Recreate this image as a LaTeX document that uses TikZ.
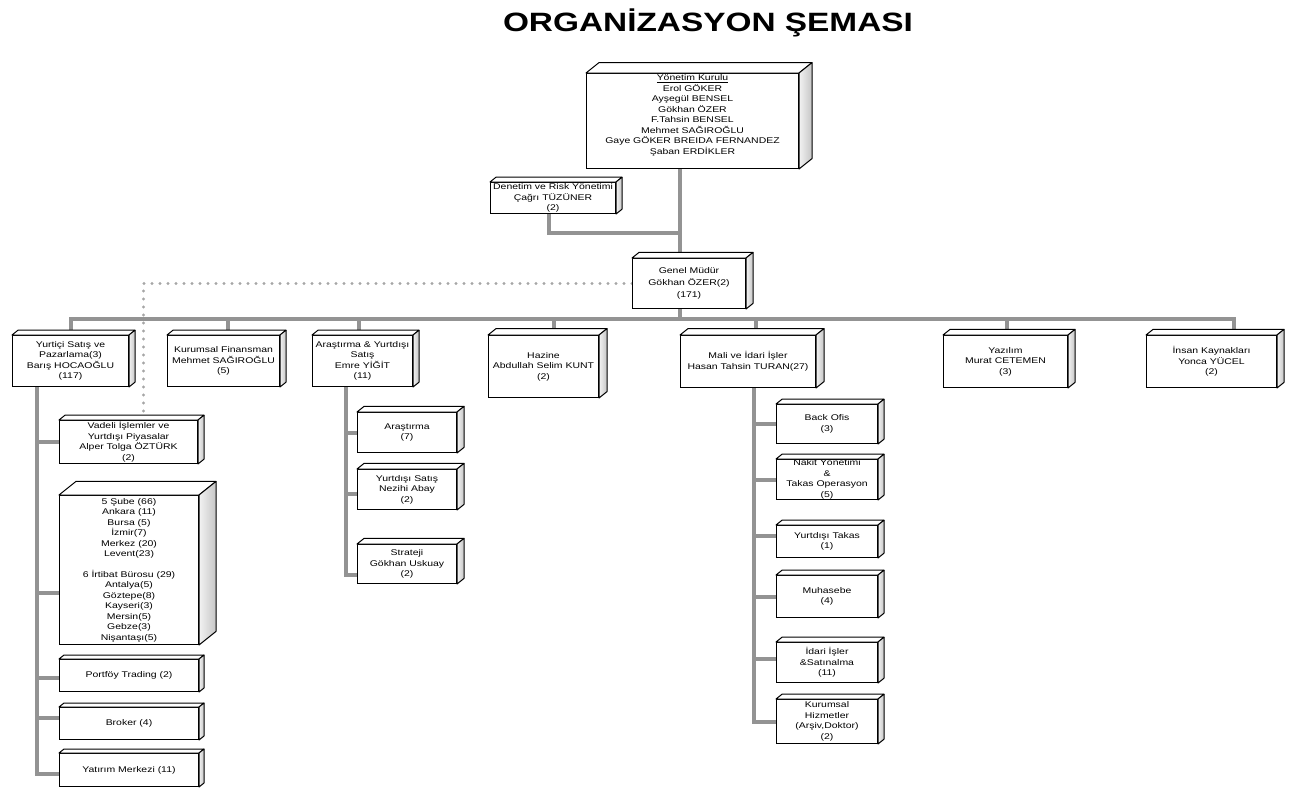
\documentclass[tikz,border=0pt]{standalone}
\usepackage{fontspec}
\setmainfont{Liberation Sans}[FakeStretch=1.26]
\usepackage{tikz}
\usetikzlibrary{positioning}
\pgfdeclarelayer{arka}
\pgfsetlayers{arka,main}
\newcommand{\yazi}{\fontsize{8.3}{10.5}\selectfont}
\newcommand{\kutu}[8][]{%
  \node[kutu,minimum width=#5,minimum height=#6,#1] (#2) at (#3,#4) {#8};
  \draw[kenar,fill=white] (#2.north west) -- ++(#7,-0.8*#7) -- ([shift={(#7,-0.8*#7)}]#2.north east) -- (#2.north east) -- cycle;
  \draw[kenar,left color=gray!10,right color=gray!45] (#2.north east) -- ++(#7,-0.8*#7) -- ([shift={(#7,-0.8*#7)}]#2.south east) -- (#2.south east) -- cycle;
}

\begin{document}
\begin{tikzpicture}[x=1pt,y=-1pt,
    kutu/.style={draw=black,fill=white,line width=1pt,inner sep=0pt,align=center,anchor=north west,font=\yazi},
    kenar/.style={draw=black,line width=1pt,line join=round},
    hat/.style={draw=gray!85,line width=4pt},
    nokta/.style={draw=gray!70,line width=3.2pt,line cap=round,dash pattern=on 0pt off 8pt}]
                \useasboundingbox (0,0) rectangle (1300,787);
                \node[font=\fontsize{26.5}{30}\selectfont\bfseries] (baslik) at (708,23) {ORGANİZASYON ŞEMASI};

                \kutu[label={[font=\yazi,align=center,anchor=north,inner sep=0pt,yshift=-1.5pt]north:{\underline{Yönetim Kurulu}\\Erol GÖKER\\Ayşegül BENSEL\\Gökhan ÖZER\\F.Tahsin BENSEL\\Mehmet SAĞIROĞLU\\Gaye GÖKER BREIDA FERNANDEZ\\Şaban ERDİKLER}}]{kurul}{586}{73}{212}{95}{13}{}
                \kutu{denetim}{490}{182}{125}{31}{6}{Denetim ve Risk Yönetimi\\Çağrı TÜZÜNER\\(2)}
                \kutu{genel}{632}{258}{113}{50}{7}{Genel Müdür\\[1.5pt]Gökhan ÖZER(2)\\[1.5pt](171)}

                \kutu{yurtici}{12}{335}{116}{51}{6}{Yurtiçi Satış ve\\Pazarlama(3)\\Barış HOCAOĞLU\\(117)}
                \kutu{kfinans}{167}{335}{112}{51}{6}{Kurumsal Finansman\\Mehmet SAĞIROĞLU\\(5)}
                \kutu{arastirma}{312}{335}{100}{51}{6}{Araştırma \& Yurtdışı\\Satış\\Emre YİĞİT\\(11)}
                \kutu{hazine}{488}{335}{110}{62}{8}{Hazine\\Abdullah Selim KUNT\\(2)}
                \kutu{mali}{680}{335}{135}{52}{8}{Mali ve İdari İşler\\Hasan Tahsin TURAN(27)}
                \kutu{yazilim}{943}{335}{124}{52}{7}{Yazılım\\Murat CETEMEN\\(3)}
                \kutu{insan}{1146}{335}{130}{52}{7}{İnsan Kaynakları\\Yonca YÜCEL\\(2)}

                \kutu{vadeli}{59}{420}{138}{43}{6}{Vadeli İşlemler ve\\Yurtdışı Piyasalar\\Alper Tolga ÖZTÜRK\\(2)}
                \kutu{sube}{59}{495}{139}{149}{17}{5 Şube (66)\\Ankara (11)\\Bursa (5)\\İzmir(7)\\Merkez (20)\\Levent(23)\\[10pt]6 İrtibat Bürosu (29)\\Antalya(5)\\Göztepe(8)\\Kayseri(3)\\Mersin(5)\\Gebze(3)\\Nişantaşı(5)}
                \kutu{portfoy}{59}{659}{139}{32}{5}{Portföy Trading (2)}
                \kutu{broker}{59}{707}{139}{32}{5}{Broker (4)}
                \kutu{yatirim}{59}{753}{139}{33}{5}{Yatırım Merkezi (11)}

                \kutu{arastirmab}{357}{412}{99}{40}{7}{Araştırma\\(7)}
                \kutu{ysatis}{357}{469}{99}{40}{7}{Yurtdışı Satış\\Nezihi Abay\\(2)}
                \kutu{strateji}{357}{544}{99}{39}{7}{Strateji\\Gökhan Uskuay\\(2)}

                \kutu{backofis}{776}{404}{101}{39}{6}{Back Ofis\\(3)}
                \kutu{nakit}{776}{459}{101}{40}{6}{Nakit Yönetimi\\\&\\Takas Operasyon\\(5)}
                \kutu{ytakas}{776}{525}{101}{32}{6}{Yurtdışı Takas\\(1)}
                \kutu{muhasebe}{776}{575}{101}{42}{6}{Muhasebe\\(4)}
                \kutu{idari}{776}{642}{101}{40}{6}{İdari İşler\\\&Satınalma\\(11)}
                \kutu{khizmet}{776}{699}{101}{44}{6}{Kurumsal\\Hizmetler\\(Arşiv,Doktor)\\(2)}

                \begin{pgfonlayer}{arka}
                \coordinate (eksen) at (680,0);
                \coordinate (kesisim) at (680,233);
                \coordinate (bara) at (680,319);
                \draw[hat] (eksen |- kurul.south) -- (eksen |- genel.north);
                \draw[hat] ([xshift=-4pt]denetim.south) |- (kesisim);
                \draw[hat] (eksen |- genel.south) -- (bara);
                \foreach \k/\s in {yurtici/0,kfinans/4,arastirma/-4,hazine/10,mali/8,yazilim/1,insan/22}
                    \draw[hat] ([xshift=\s pt]\k.north) |- (bara);
                \draw[nokta] (genel.west) -| ([xshift=15pt]vadeli.north);
                \foreach \k/\s in {vadeli/0,sube/-23,portfoy/-2,broker/6,yatirim/-4}
                    \draw[hat] ([xshift=-34pt]yurtici.south) |- ([yshift=\s pt]\k.west);
                \foreach \k/\s in {arastirmab/0,ysatis/-4,strateji/-11}
                    \draw[hat] ([xshift=-17pt]arastirma.south) |- ([yshift=\s pt]\k.west);
                \foreach \k/\s in {backofis/0,nakit/0,ytakas/6,muhasebe/0,idari/4,khizmet/0}
                    \draw[hat] ([xshift=5.5pt]mali.south) |- ([yshift=\s pt]\k.west);
                \end{pgfonlayer}
            \end{tikzpicture}
\end{document}
